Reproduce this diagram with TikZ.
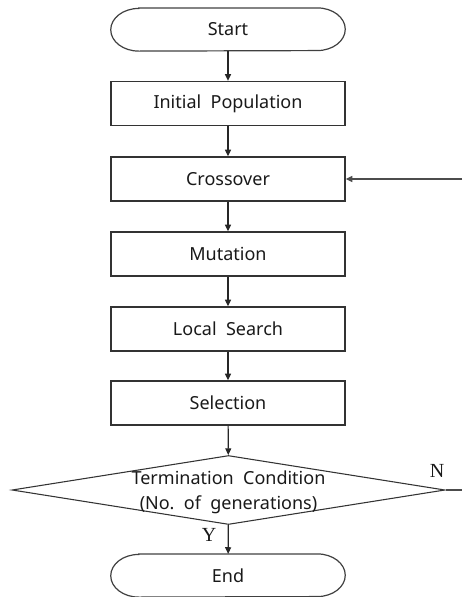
\documentclass[tikz,border=0pt]{standalone}
\usepackage{fontspec}
\setmainfont{Noto Sans}
\newfontfamily\serifyn{Liberation Serif}
\usetikzlibrary{arrows.meta,shapes.geometric}
\begin{document}
\begin{tikzpicture}[x=0.75pt,y=-0.75pt,
  every node/.style={font=\fontsize{13.5}{16}\selectfont, text=black!90},
  procbox/.style={draw=black!80, line width=1pt, minimum width=175.5pt, minimum height=33pt, inner sep=0pt},
  termbox/.style={minimum width=175.5pt, minimum height=32pt, inner sep=0pt},
  decbox/.style={draw=black!80, line width=0.8pt, diamond, aspect=6.3, minimum width=324.75pt, minimum height=51.75pt, inner sep=0pt},
  dectext/.style={align=center, font=\fontsize{13.5}{19}\selectfont},
  flow/.style={draw=black!85, line width=0.9pt, -{Triangle[length=5pt,width=4.5pt]}},
  plain/.style={draw=black!70, line width=0.9pt},
  ynlabel/.style={font=\serifyn\fontsize{15}{17}\selectfont}
]
\useasboundingbox (0,0) rectangle (462,597);
\node[termbox] (start) at (228,29.5) {Start};
\node[procbox] (init) at (228,103.5) {Initial~~Population};
\node[procbox] (cross) at (228,179) {Crossover};
\node[procbox] (mut) at (228,254) {Mutation};
\node[procbox] (ls) at (228,329) {Local~~Search};
\node[procbox] (sel) at (228,403) {Selection};
\node[decbox] (term) at (228.5,490) {};
\node[dectext] (termtext) at (228.5,492) {Termination~~Condition\\(No.~~of~~generations)};
\node[termbox] (end) at (228,575.5) {End};
% stadium outlines
\foreach \n in {start,end}{
  \draw[draw=black!75, line width=0.9pt]
    ([xshift=21pt]\n.north west) -- ([xshift=-21pt]\n.north east)
    arc[start angle=90,end angle=-90,x radius=21pt,y radius=16pt]
    -- ([xshift=21pt]\n.south west)
    arc[start angle=270,end angle=90,x radius=21pt,y radius=16pt] -- cycle;
}
\coordinate (nout) at (462,490);
\coordinate (back) at (462,179);
\draw[flow] (start) -- (init);
\draw[flow] (init) -- (cross);
\draw[flow] (cross) -- (mut);
\draw[flow] (mut) -- (ls);
\draw[flow] (ls) -- (sel);
\draw[flow] (sel) -- (term);
\draw[flow] (term) -- (end);
\draw[plain] (term.east) -- (nout);
\draw[flow, draw=black!70] (back) -- (cross.east);
\node[ynlabel] (ylab) at (209,535) {Y};
\node[ynlabel] (nlab) at (437,471) {N};
\end{tikzpicture}
\end{document}
